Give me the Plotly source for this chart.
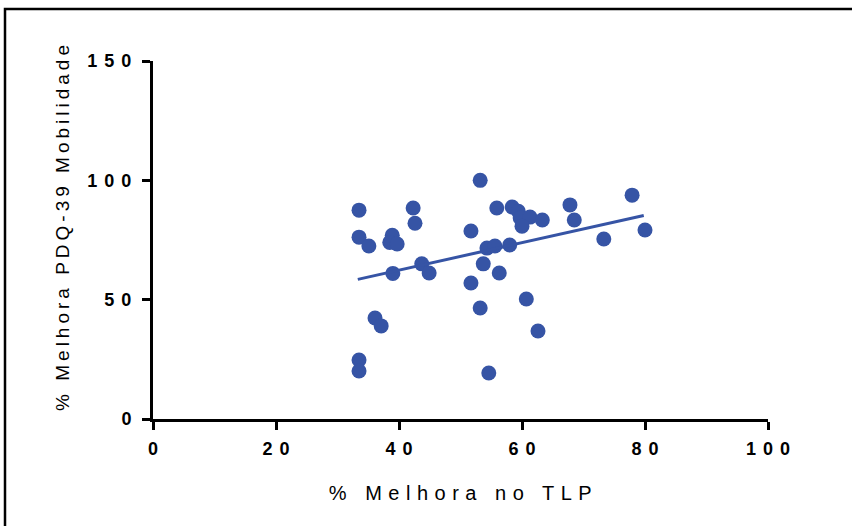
import plotly.graph_objects as go

# Data
tlp_improvement = [33.5, 33.5, 35.1, 38.9, 38.5, 39.7, 42.3, 42.6, 39.0, 43.7,
                   44.9, 53.2, 51.7, 54.3, 55.6, 58.0, 53.7, 56.3, 51.7, 53.2,
                   60.7, 62.6, 54.6, 33.5, 33.5, 36.1, 37.1, 55.9, 58.4, 59.4,
                   59.7, 61.3, 60.0, 63.3, 67.8, 68.5, 77.9, 80.0, 73.3]
pdq_improvement = [87.5, 76.2, 72.5, 77.0, 74.0, 73.3, 88.4, 82.0, 61.0, 65.0,
                   61.2, 100.0, 78.8, 71.6, 72.5, 72.9, 65.0, 61.2, 57.0, 46.5,
                   50.3, 36.9, 19.3, 24.7, 20.1, 42.3, 39.0, 88.4, 88.8, 87.0,
                   84.2, 84.6, 80.8, 83.4, 89.7, 83.4, 93.8, 79.2, 75.4]
fit_x = [33.3, 79.8]
fit_y = [58.5, 85.3]

x_ticks = [0, 20, 40, 60, 80, 100]
y_ticks = [0, 50, 100, 150]

x_title = "% Melhora no TLP"
y_title = "% Melhora PDQ-39 Mobilidade"

blue = "#3654A5"

fig = go.Figure()
fig.add_trace(go.Scatter(
    x=tlp_improvement, y=pdq_improvement, mode="markers",
    marker=dict(size=15, color=blue, line=dict(width=0)),
    showlegend=False, cliponaxis=False,
))
fig.add_trace(go.Scatter(
    x=fit_x, y=fit_y, mode="lines",
    line=dict(color=blue, width=3), showlegend=False,
))

axis_common = dict(
    showgrid=False, zeroline=False, showline=True, linecolor="black",
    linewidth=3, ticks="outside", ticklen=8, tickwidth=3, tickcolor="black",
    tickfont=dict(family="Liberation Sans, Arial, sans-serif", size=18,
                  color="black", weight="bold"),
)

fig.update_layout(
    width=852, height=526,
    paper_bgcolor="white", plot_bgcolor="white",
    margin=dict(l=153, r=84, t=61, b=107, autoexpand=False),
    font=dict(family="Liberation Sans, Arial, sans-serif", color="black"),
    xaxis=dict(range=[0, 100], tickvals=x_ticks, ticktext=[str(v) for v in x_ticks],
               title=dict(text=x_title, font=dict(size=20), standoff=29),
               ticklabelstandoff=3,
               **axis_common),
    yaxis=dict(range=[0, 150], tickvals=y_ticks, ticktext=[str(v) for v in y_ticks],
               title=dict(text=y_title, font=dict(size=19), standoff=34),
               ticklabelstandoff=0,
               **axis_common),
    shapes=[dict(type="rect", xref="paper", yref="paper",
                 x0=(5 - 153) / 615, x1=(870 - 153) / 615,
                 y0=(419 - 560) / 358, y1=(419 - 9) / 358,
                 line=dict(color="black", width=2.5), fillcolor="rgba(0,0,0,0)",
                 layer="below")],
)

post = """
document.body.style.margin = '0';
var gd = document.getElementById('{plot_id}');
gd.querySelectorAll('.xtick text, .ytick text').forEach(function(t){t.style.letterSpacing='7px';});
gd.querySelectorAll('.xtick text').forEach(function(t){t.setAttribute('dx', '3.5');});
gd.querySelectorAll('.g-xtitle text').forEach(function(t){
  t.style.letterSpacing='6.5px';
  t.setAttribute('dx', '3');
});
gd.querySelectorAll('.g-ytitle text').forEach(function(t){
  t.style.letterSpacing='4px';
  var x = parseFloat(t.getAttribute('x'));
  t.setAttribute('x', x + 14);
});
"""

fig.write_html("out.html", post_script=post, config={"displayModeBar": False})
